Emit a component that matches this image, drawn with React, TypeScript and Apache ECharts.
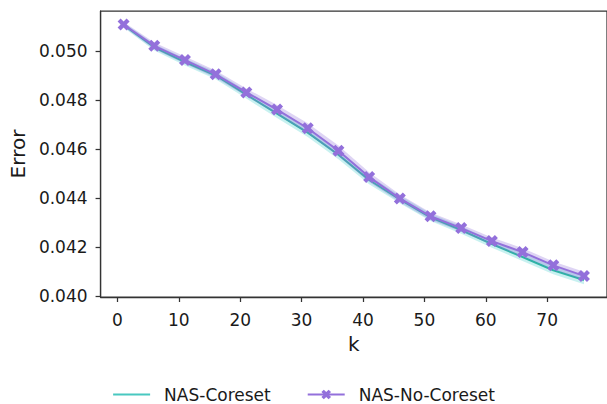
import React, { useEffect, useRef } from "react";
import * as echarts from "echarts";

const kValues = [1, 6, 11, 16, 21, 26, 31, 36, 41, 46, 51, 56, 61, 66, 71, 76];
const coresetError = [0.05106, 0.05015, 0.04955, 0.04900, 0.04822, 0.04745, 0.04667, 0.04577, 0.04474, 0.04395, 0.04322, 0.04270, 0.04213, 0.04160, 0.04106, 0.04066];
const coresetSpread = [0.0001, 0.00013, 0.00014, 0.00015, 0.00016, 0.00018, 0.00018, 0.00018, 0.00017, 0.00016, 0.00015, 0.00015, 0.00015, 0.00016, 0.00016, 0.00017];
const noCoresetError = [0.05108, 0.05021, 0.04963, 0.04905, 0.04831, 0.04761, 0.04685, 0.04593, 0.04486, 0.04399, 0.04326, 0.04278, 0.04225, 0.04180, 0.04126, 0.04083];
const noCoresetSpread = [0.0001, 0.00014, 0.00015, 0.00015, 0.00016, 0.00019, 0.0002, 0.00022, 0.0002, 0.00016, 0.00015, 0.00015, 0.00015, 0.00016, 0.00016, 0.00017];
const xTicks = [0, 10, 20, 30, 40, 50, 60, 70];
const yTicks = [0.040, 0.042, 0.044, 0.046, 0.048, 0.050];
const seriesNames = ["NAS-Coreset", "NAS-No-Coreset"];

const TEAL = "#2fb2a6";
const PURPLE = "#9370DB";
const X_MARK = "path://M0,3 L3,0 L6,3 L9,0 L12,3 L9,6 L12,9 L9,12 L6,9 L3,12 L0,9 L3,6 Z";

function bandSeries(values: number[], spread: number[], color: string, z: number) {
  const rows = kValues.map((k, i) => [k, values[i] - spread[i], values[i] + spread[i]]);
  return {
    type: "custom",
    data: rows,
    silent: true,
    z,
    encode: { x: 0, y: [1, 2] },
    renderItem: (params: any, api: any) => {
      if (params.dataIndex !== 0) return null;
      const upper = rows.map((r) => api.coord([r[0], r[2]]));
      const lower = rows.map((r) => api.coord([r[0], r[1]])).reverse();
      return {
        type: "polygon",
        shape: { points: upper.concat(lower) },
        style: { fill: color, opacity: 0.3 },
      };
    },
  };
}

export default function App() {
  const ref = useRef<HTMLDivElement>(null);
  useEffect(() => {
    if (!ref.current) return;
    const chart = echarts.init(ref.current, null, { renderer: "svg" });
    const font = "DejaVu Sans";
    chart.setOption({
      animation: false,
      backgroundColor: "#ffffff",
      grid: {
        left: 100,
        right: -1,
        top: 11,
        bottom: 107,
        show: true,
        borderColor: "#333333",
        borderWidth: 1.25,
      },
      legend: {
        data: [
          { name: seriesNames[0], itemStyle: { opacity: 0 }, lineStyle: { color: "#48c8c0" } },
          { name: seriesNames[1] },
        ],
        bottom: -4,
        left: "center",
        itemWidth: 37,
        itemHeight: 12,
        itemGap: 36,
        textStyle: { fontFamily: font, fontSize: 17, color: "#1a1a1a", padding: [0, 0, 0, 9] },
      },
      xAxis: {
        type: "value",
        min: -2.75,
        max: 79.75,
        name: "k",
        nameLocation: "middle",
        nameGap: 37,
        nameTextStyle: { fontFamily: font, fontSize: 20, color: "#1a1a1a" },
        splitLine: { show: false },
        axisLine: { show: true, onZero: false, lineStyle: { color: "#333333", width: 1.25 } },
        axisTick: { show: true, length: 5, customValues: xTicks, lineStyle: { color: "#333333", width: 1.25 } },
        axisLabel: { customValues: xTicks, fontFamily: font, fontSize: 17, color: "#1a1a1a", margin: 14 },
      },
      yAxis: {
        type: "value",
        min: 0.03997,
        max: 0.05163,
        name: "Error",
        nameLocation: "middle",
        nameGap: 70,
        nameTextStyle: { fontFamily: font, fontSize: 20, color: "#1a1a1a" },
        splitLine: { show: false },
        axisLine: { show: true, onZero: false, lineStyle: { color: "#333333", width: 1.25 } },
        axisTick: { show: true, length: 5, customValues: yTicks, lineStyle: { color: "#333333", width: 1.25 } },
        axisLabel: {
          customValues: yTicks,
          fontFamily: font,
          fontSize: 17,
          color: "#1a1a1a",
          margin: 13,
          formatter: (v: number) => v.toFixed(3),
        },
      },
      series: [
        bandSeries(coresetError, coresetSpread, "#48D1CC", 1),
        {
          type: "line",
          name: seriesNames[0],
          data: kValues.map((k, i) => [k, coresetError[i]]),
          symbol: "none",
          color: TEAL,
          lineStyle: { color: TEAL, width: 2 },
          z: 2,
        },
        bandSeries(noCoresetError, noCoresetSpread, PURPLE, 3),
        {
          type: "line",
          name: seriesNames[1],
          data: kValues.map((k, i) => [k, noCoresetError[i]]),
          symbol: X_MARK,
          symbolSize: 12,
          showSymbol: true,
          color: PURPLE,
          itemStyle: { color: PURPLE, borderWidth: 0 },
          lineStyle: { color: PURPLE, width: 2 },
          z: 4,
        },
      ],
    });
    return () => chart.dispose();
  }, []);
  return (
    <div
      ref={ref}
      style={{ position: "fixed", left: 0, top: 0, width: 607, height: 404 }}
    />
  );
}
